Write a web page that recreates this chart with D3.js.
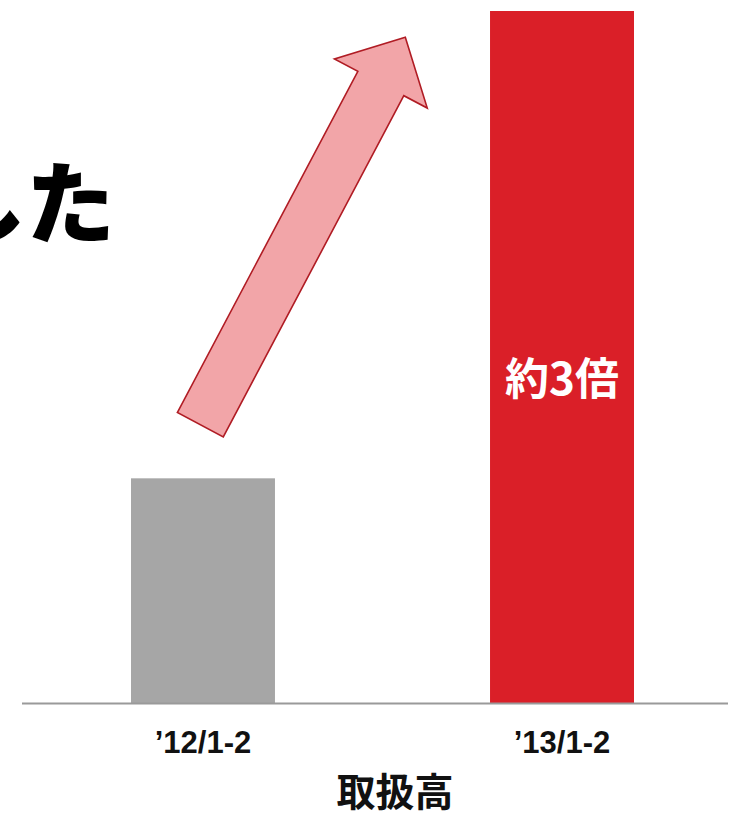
<!DOCTYPE html>
<html><head><meta charset="utf-8">
<script src="https://cdn.jsdelivr.net/npm/d3@7"></script>
<style>html,body{margin:0;padding:0;background:#fff;}svg{display:block;}</style>
</head><body>
<script>
const categories = ["’12/1-2", "’13/1-2"];
const values = [1.0, 3.08];
const barColors = ["#a6a6a6", "#da1f28"];
const barLabels = ["", "約3倍"];
const axisTitle = "取扱高";
const headline = "した";

const W = 730, H = 818;
const svg = d3.select("body").append("svg").attr("width", W).attr("height", H);

const baseY = 703;
const x = d3.scaleBand().domain(categories).range([131, 634]).paddingInner(0.599).paddingOuter(0);
const y = d3.scaleLinear().domain([0, 3.08]).range([baseY, 11]);

// headline (cut off at the left, as in the reference)
svg.append("text").attr("x", 115).attr("y", 236).attr("text-anchor", "end")
  .attr("font-family", "'Noto Sans CJK JP'").attr("font-weight", 900)
  .attr("font-size", 89).attr("fill", "#000").text(headline);

// bars
svg.selectAll("rect.bar").data(values).join("rect").attr("class", "bar")
  .attr("x", (d, i) => x(categories[i])).attr("width", x.bandwidth())
  .attr("y", d => y(d)).attr("height", d => baseY - y(d))
  .attr("fill", (d, i) => barColors[i]);

// axis line
svg.append("line").attr("x1", 22).attr("x2", 728).attr("y1", baseY + 0.5).attr("y2", baseY + 0.5)
  .attr("stroke", "#9a9a9a").attr("stroke-width", 2);

// category labels
svg.selectAll("text.cat").data(categories).join("text").attr("class", "cat")
  .attr("x", d => x(d) + x.bandwidth() / 2).attr("y", 753)
  .attr("text-anchor", "middle").attr("font-family", "'Liberation Sans', Arial, sans-serif")
  .attr("font-weight", "bold").attr("font-size", 31).attr("fill", "#111").text(d => d);

// axis title
svg.append("text").attr("x", 395).attr("y", 806).attr("text-anchor", "middle")
  .attr("font-family", "'Noto Sans CJK JP'").attr("font-weight", 700)
  .attr("font-size", 39).attr("fill", "#111").text(axisTitle);

// bar label
svg.selectAll("text.blab").data(values).join("text").attr("class", "blab")
  .attr("x", (d, i) => x(categories[i]) + x.bandwidth() / 2)
  .attr("y", 395).attr("text-anchor", "middle")
  .attr("font-family", "'Noto Sans CJK JP'").attr("font-weight", 700)
  .attr("font-size", 44).attr("fill", "#fff").text((d, i) => barLabels[i]);

// arrow annotation
const tail = [200.3, 424.7], tip = [405.3, 37.3];
const shaftHalf = 26, headHalf = 52.5, headLen = 52.3;
const dx = tip[0] - tail[0], dy = tip[1] - tail[1], L = Math.hypot(dx, dy);
const u = [dx / L, dy / L], n = [-u[1], u[0]];
const P = (b, a, s) => [b[0] + u[0] * a + n[0] * s, b[1] + u[1] * a + n[1] * s];
const hb = L - headLen;
const pts = [P(tail, 0, -shaftHalf), P(tail, hb, -shaftHalf), P(tail, hb, -headHalf), tip,
  P(tail, hb, headHalf), P(tail, hb, shaftHalf), P(tail, 0, shaftHalf)];
svg.append("path").attr("d", d3.line()(pts) + "Z")
  .attr("fill", "#f2a5a8").attr("stroke", "#b01c24").attr("stroke-width", 1.6)
  .attr("stroke-linejoin", "miter");
</script>
</body></html>
